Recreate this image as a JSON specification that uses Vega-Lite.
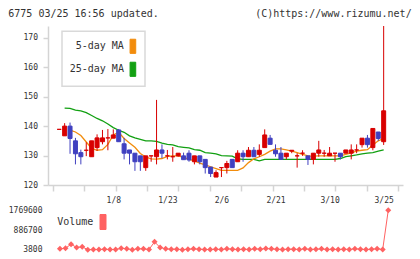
{
  "$schema": "https://vega.github.io/schema/vega-lite/v6.json",
  "background": "white",
  "padding": {"left": 8, "top": 8, "right": 0, "bottom": 0},
  "title": {
    "text": "6775 03/25 16:56 updated.\u00a0\u00a0\u00a0\u00a0\u00a0\u00a0\u00a0\u00a0\u00a0\u00a0\u00a0\u00a0\u00a0\u00a0\u00a0\u00a0(C)https://www.rizumu.net/",
    "anchor": "start",
    "font": "DejaVu Sans Mono",
    "fontSize": 10,
    "fontWeight": "normal",
    "color": "#333333",
    "offset": 7,
    "dx": 0
  },
  "datasets": {
    "d": [
      {"i": 0, "open": 138.9, "high": 138.9, "low": 138.9, "close": 138.9, "ma5": null, "ma25": null, "volume": null},
      {"i": 1, "open": 136.7, "high": 141.0, "low": 136.7, "close": 140.0, "ma5": null, "ma25": 146.1, "volume": 41000},
      {"i": 2, "open": 140.0, "high": 141.2, "low": 130.6, "close": 135.8, "ma5": 138.6, "ma25": 146.0, "volume": 71000},
      {"i": 3, "open": 135.0, "high": 136.0, "low": 127.0, "close": 130.6, "ma5": 138.0, "ma25": 145.4, "volume": 250000},
      {"i": 4, "open": 131.0, "high": 132.0, "low": 127.0, "close": 129.6, "ma5": 136.8, "ma25": 145.2, "volume": 101000},
      {"i": 5, "open": 131.8, "high": 134.5, "low": 129.8, "close": 131.8, "ma5": 134.6, "ma25": 144.6, "volume": 131000},
      {"i": 6, "open": 129.6, "high": 135.0, "low": 129.6, "close": 135.0, "ma5": 132.4, "ma25": 143.6, "volume": 3800},
      {"i": 7, "open": 132.7, "high": 137.2, "low": 131.6, "close": 136.0, "ma5": 131.8, "ma25": 142.6, "volume": 11000},
      {"i": 8, "open": 134.7, "high": 138.7, "low": 133.8, "close": 136.0, "ma5": 132.0, "ma25": 141.8, "volume": 11000},
      {"i": 9, "open": 136.0, "high": 139.0, "low": 131.8, "close": 136.0, "ma5": 133.8, "ma25": 140.7, "volume": 26000},
      {"i": 10, "open": 135.9, "high": 138.9, "low": 135.9, "close": 137.0, "ma5": 137.0, "ma25": 139.5, "volume": 11000},
      {"i": 11, "open": 138.7, "high": 139.0, "low": 134.7, "close": 134.7, "ma5": 137.9, "ma25": 138.6, "volume": 11000},
      {"i": 12, "open": 134.0, "high": 136.0, "low": 128.7, "close": 130.8, "ma5": 135.8, "ma25": 137.9, "volume": 71000},
      {"i": 13, "open": 131.9, "high": 131.9, "low": 127.0, "close": 130.8, "ma5": 134.3, "ma25": 136.7, "volume": 41000},
      {"i": 14, "open": 130.8, "high": 130.8, "low": 124.8, "close": 127.9, "ma5": 132.8, "ma25": 136.0, "volume": 3800},
      {"i": 15, "open": 129.9, "high": 129.9, "low": 124.8, "close": 127.9, "ma5": 130.7, "ma25": 135.5, "volume": 41000},
      {"i": 16, "open": 125.9, "high": 129.9, "low": 124.8, "close": 129.9, "ma5": 129.5, "ma25": 135.0, "volume": 41000},
      {"i": 17, "open": 129.9, "high": 129.9, "low": 127.9, "close": 129.9, "ma5": 128.9, "ma25": 135.0, "volume": 11000},
      {"i": 18, "open": 129.6, "high": 148.9, "low": 127.0, "close": 131.9, "ma5": 128.8, "ma25": 134.8, "volume": 355000},
      {"i": 19, "open": 131.9, "high": 133.8, "low": 129.1, "close": 130.8, "ma5": 129.0, "ma25": 134.2, "volume": 101000},
      {"i": 20, "open": 129.9, "high": 131.9, "low": 128.7, "close": 129.9, "ma5": 129.7, "ma25": 133.8, "volume": 41000},
      {"i": 21, "open": 129.6, "high": 132.9, "low": 127.9, "close": 129.6, "ma5": 129.9, "ma25": 133.6, "volume": 26000},
      {"i": 22, "open": 129.9, "high": 130.8, "low": 129.6, "close": 130.8, "ma5": 129.9, "ma25": 133.0, "volume": 26000},
      {"i": 23, "open": 129.9, "high": 131.0, "low": 128.6, "close": 128.6, "ma5": 129.4, "ma25": 132.8, "volume": 3800},
      {"i": 24, "open": 130.8, "high": 131.8, "low": 127.9, "close": 128.5, "ma5": 128.7, "ma25": 132.6, "volume": 26000},
      {"i": 25, "open": 127.9, "high": 129.9, "low": 127.0, "close": 129.9, "ma5": 128.2, "ma25": 132.0, "volume": 41000},
      {"i": 26, "open": 129.9, "high": 129.9, "low": 127.0, "close": 127.9, "ma5": 127.4, "ma25": 131.8, "volume": 26000},
      {"i": 27, "open": 128.7, "high": 128.7, "low": 123.9, "close": 125.9, "ma5": 126.8, "ma25": 131.0, "volume": 11000},
      {"i": 28, "open": 126.1, "high": 126.1, "low": 122.7, "close": 123.9, "ma5": 126.2, "ma25": 130.8, "volume": 11000},
      {"i": 29, "open": 122.7, "high": 125.0, "low": 122.7, "close": 124.2, "ma5": 125.6, "ma25": 130.6, "volume": 26000},
      {"i": 30, "open": 125.9, "high": 125.9, "low": 122.7, "close": 125.9, "ma5": 125.0, "ma25": 130.0, "volume": 11000},
      {"i": 31, "open": 125.9, "high": 128.2, "low": 123.9, "close": 127.3, "ma5": 125.0, "ma25": 129.9, "volume": 41000},
      {"i": 32, "open": 128.7, "high": 128.7, "low": 125.9, "close": 125.9, "ma5": 125.0, "ma25": 129.8, "volume": 26000},
      {"i": 33, "open": 127.9, "high": 131.8, "low": 127.9, "close": 130.8, "ma5": 125.0, "ma25": 128.9, "volume": 11000},
      {"i": 34, "open": 130.8, "high": 131.8, "low": 127.9, "close": 129.6, "ma5": 125.8, "ma25": 128.7, "volume": 26000},
      {"i": 35, "open": 129.6, "high": 132.9, "low": 129.6, "close": 131.8, "ma5": 127.6, "ma25": 128.7, "volume": 11000},
      {"i": 36, "open": 131.8, "high": 132.9, "low": 129.6, "close": 129.6, "ma5": 128.9, "ma25": 128.7, "volume": 41000},
      {"i": 37, "open": 130.4, "high": 133.8, "low": 129.6, "close": 131.8, "ma5": 129.6, "ma25": 128.2, "volume": 26000},
      {"i": 38, "open": 132.7, "high": 138.9, "low": 132.7, "close": 137.0, "ma5": 130.4, "ma25": 128.7, "volume": 56000},
      {"i": 39, "open": 135.9, "high": 137.0, "low": 133.8, "close": 133.8, "ma5": 131.5, "ma25": 128.7, "volume": 41000},
      {"i": 40, "open": 131.8, "high": 133.8, "low": 129.6, "close": 130.6, "ma5": 132.3, "ma25": 128.7, "volume": 26000},
      {"i": 41, "open": 130.8, "high": 132.9, "low": 128.7, "close": 128.7, "ma5": 132.3, "ma25": 128.7, "volume": 11000},
      {"i": 42, "open": 129.6, "high": 130.8, "low": 128.7, "close": 130.8, "ma5": 131.9, "ma25": 128.7, "volume": 26000},
      {"i": 43, "open": 131.5, "high": 131.8, "low": 130.8, "close": 131.8, "ma5": 131.5, "ma25": 128.7, "volume": 26000},
      {"i": 44, "open": 129.9, "high": 130.8, "low": 125.9, "close": 129.9, "ma5": 131.0, "ma25": 128.7, "volume": 11000},
      {"i": 45, "open": 130.8, "high": 131.8, "low": 129.9, "close": 130.8, "ma5": 130.4, "ma25": 128.7, "volume": 41000},
      {"i": 46, "open": 129.9, "high": 129.9, "low": 126.8, "close": 128.7, "ma5": 129.9, "ma25": 128.7, "volume": 11000},
      {"i": 47, "open": 128.7, "high": 130.8, "low": 127.0, "close": 130.8, "ma5": 129.8, "ma25": 128.7, "volume": 26000},
      {"i": 48, "open": 130.8, "high": 135.0, "low": 129.6, "close": 131.9, "ma5": 129.9, "ma25": 128.7, "volume": 41000},
      {"i": 49, "open": 130.8, "high": 131.9, "low": 129.6, "close": 130.8, "ma5": 129.9, "ma25": 128.7, "volume": 11000},
      {"i": 50, "open": 129.9, "high": 132.9, "low": 129.9, "close": 130.8, "ma5": 129.9, "ma25": 128.7, "volume": 26000},
      {"i": 51, "open": 130.8, "high": 130.8, "low": 127.9, "close": 130.8, "ma5": 129.9, "ma25": 128.7, "volume": 11000},
      {"i": 52, "open": 130.8, "high": 130.8, "low": 128.7, "close": 129.6, "ma5": 129.9, "ma25": 129.0, "volume": 26000},
      {"i": 53, "open": 130.8, "high": 131.9, "low": 130.8, "close": 131.9, "ma5": 130.4, "ma25": 129.6, "volume": 11000},
      {"i": 54, "open": 130.8, "high": 133.8, "low": 128.7, "close": 131.9, "ma5": 130.9, "ma25": 129.9, "volume": 41000},
      {"i": 55, "open": 131.9, "high": 133.8, "low": 130.8, "close": 131.9, "ma5": 131.5, "ma25": 130.2, "volume": 26000},
      {"i": 56, "open": 133.7, "high": 135.9, "low": 132.7, "close": 135.9, "ma5": 131.8, "ma25": 130.6, "volume": 11000},
      {"i": 57, "open": 135.9, "high": 137.0, "low": 132.7, "close": 133.7, "ma5": 132.0, "ma25": 130.8, "volume": 26000},
      {"i": 58, "open": 132.7, "high": 139.2, "low": 131.8, "close": 139.2, "ma5": 133.6, "ma25": 131.0, "volume": 41000},
      {"i": 59, "open": 138.0, "high": 138.0, "low": 135.0, "close": 135.8, "ma5": 135.0, "ma25": 131.5, "volume": 11000},
      {"i": 60, "open": 134.7, "high": 174.0, "low": 133.6, "close": 145.2, "ma5": 135.8, "ma25": 131.9, "volume": 1769600}
    ]
  },
  "spacing": 25.3,
  "bounds": "flush",
  "resolve": {
    "scale": {"color": "independent", "x": "independent", "y": "independent"},
    "legend": {"color": "independent"}
  },
  "vconcat": [
    {
      "width": 355,
      "height": 159,
      "data": {"name": "d"},
      "encoding": {
        "x": {
          "field": "i",
          "type": "quantitative",
          "scale": {"domain": [-1.15, 62.65], "nice": false, "zero": false},
          "axis": {
            "values": [-1.15, 4.65, 10, 10.45, 16.25, 20, 22.05, 27.85, 30, 33.65, 39.45, 40, 45.25, 50, 51.05, 56.85, 60, 62.65],
            "labelExpr": "datum.value == 10 ? '1/8' : datum.value == 20 ? '1/23' : datum.value == 30 ? '2/6' : datum.value == 40 ? '2/21' : datum.value == 50 ? '3/10' : datum.value == 60 ? '3/25' : ''",
            "tickOpacity": {"condition": {"test": "datum.value % 10 === 0", "value": 0}, "value": 1},
            "tickSize": 6,
            "tickWidth": 1.5,
            "tickColor": "#d4d4d4",
            "domainColor": "#d4d4d4",
            "domainWidth": 1.5,
            "grid": false,
            "labelFont": "DejaVu Sans Mono",
            "labelFontSize": 8,
            "labelColor": "#333333",
            "labelPadding": 5,
            "labelOverlap": false,
            "labelFlush": false,
            "title": null
          }
        }
      },
      "layer": [
        {
          "mark": {"type": "line", "strokeWidth": 1.3},
          "encoding": {
            "y": {
              "field": "ma25",
              "type": "quantitative",
              "scale": {"domain": [120, 174], "nice": false, "zero": false},
              "axis": {
                "values": [120, 130, 140, 150, 160, 170],
                "tickSize": 5, "tickWidth": 1.5, "tickColor": "#d4d4d4",
                "domainColor": "#d4d4d4", "domainWidth": 1.5, "grid": false,
                "labelFont": "DejaVu Sans Mono", "labelFontSize": 8, "labelColor": "#333333",
                "labelPadding": 5.5, "labelFlush": false, "labelOverlap": false, "title": null
              }
            },
            "color": {
              "datum": "25-day MA",
              "type": "nominal",
              "scale": {"domain": ["5-day MA", "25-day MA"], "range": ["#f28c0c", "#12a012"]},
              "legend": {
                "title": null,
                "orient": "none",
                "legendX": 14,
                "legendY": 5.3,
                "padding": 7,
                "strokeColor": "#d9d9d9",
                "fillColor": "white",
                "symbolType": "M-0.4,-1H0.4V1H-0.4Z",
                "symbolSize": 200,
                "symbolStrokeColor": "#333333",
                "symbolStrokeWidth": 1,
                "symbolOpacity": 1,
                "symbolOffset": 55.9,
                "labelAlign": "right",
                "labelOffset": -17,
                "labelFont": "DejaVu Sans Mono",
                "labelFontSize": 10,
                "labelColor": "#333333",
                "rowPadding": 3,
                "encode": {
                  "legend": {"update": {"strokeWidth": {"value": 1.5}}},
                  "symbols": {
                    "update": {
                      "fill": {"signal": "datum.value === '5-day MA' ? '#f28c0c' : '#12a012'"},
                      "fillOpacity": {"value": 1},
                      "stroke": {"value": "#333333"},
                      "strokeWidth": {"value": 1}
                    }
                  }
                }
              }
            }
          }
        },
        {
          "mark": {"type": "line", "strokeWidth": 1.3},
          "encoding": {
            "y": {
              "field": "ma5",
              "type": "quantitative",
              "axis": {
                "values": [120, 130, 140, 150, 160, 170],
                "tickSize": 5, "tickWidth": 1.5, "tickColor": "#d4d4d4",
                "domainColor": "#d4d4d4", "domainWidth": 1.5, "grid": false,
                "labelFont": "DejaVu Sans Mono", "labelFontSize": 8, "labelColor": "#333333",
                "labelPadding": 5.5, "labelFlush": false, "labelOverlap": false, "title": null
              }
            },
            "color": {"datum": "5-day MA", "type": "nominal"}
          }
        },
        {
          "mark": {"type": "rule", "strokeWidth": 1},
          "encoding": {
            "y": {
              "field": "low",
              "type": "quantitative",
              "axis": {
                "values": [120, 130, 140, 150, 160, 170],
                "tickSize": 5, "tickWidth": 1.5, "tickColor": "#d4d4d4",
                "domainColor": "#d4d4d4", "domainWidth": 1.5, "grid": false,
                "labelFont": "DejaVu Sans Mono", "labelFontSize": 8, "labelColor": "#333333",
                "labelPadding": 5.5, "labelFlush": false, "labelOverlap": false, "title": null
              }
            },
            "y2": {"field": "high"},
            "color": {"condition": {"test": "datum.close >= datum.open", "value": "#d80000"}, "value": "#4040c0"}
          }
        },
        {
          "mark": {"type": "bar", "width": 4, "strokeWidth": 1},
          "encoding": {
            "y": {
              "field": "open",
              "type": "quantitative",
              "axis": {
                "values": [120, 130, 140, 150, 160, 170],
                "tickSize": 5, "tickWidth": 1.5, "tickColor": "#d4d4d4",
                "domainColor": "#d4d4d4", "domainWidth": 1.5, "grid": false,
                "labelFont": "DejaVu Sans Mono", "labelFontSize": 8, "labelColor": "#333333",
                "labelPadding": 5.5, "labelFlush": false, "labelOverlap": false, "title": null
              }
            },
            "y2": {"field": "close"},
            "color": {"condition": {"test": "datum.close >= datum.open", "value": "#d80000"}, "value": "#4040c0"},
            "stroke": {"condition": {"test": "datum.close >= datum.open", "value": "#d80000"}, "value": "#4040c0"}
          }
        }
      ]
    },
    {
      "width": 355,
      "height": 39.4,
      "data": {"name": "d"},
      "mark": {"type": "line", "strokeWidth": 1, "point": {"filled": true, "shape": "diamond", "size": 36}},
      "encoding": {
        "x": {
          "field": "i",
          "type": "quantitative",
          "scale": {"domain": [-1.15, 62.65], "nice": false, "zero": false},
          "axis": null
        },
        "y": {
          "field": "volume",
          "type": "quantitative",
          "scale": {"domain": [3800, 1769600], "nice": false, "zero": false},
          "axis": {
            "values": [3800, 886700, 1769600],
            "format": "d",
            "domain": false,
            "ticks": false,
            "tickSize": 0,
            "grid": false,
            "labelFont": "DejaVu Sans Mono",
            "labelFontSize": 8,
            "labelColor": "#333333",
            "labelPadding": 6,
            "labelFlush": false,
            "labelOverlap": false,
            "title": null
          }
        },
        "color": {
          "datum": "Volume",
          "type": "nominal",
          "scale": {"domain": ["Volume"], "range": ["#ff6262"]},
          "legend": {
            "title": null,
            "orient": "none",
            "legendX": 0,
            "legendY": 3.7,
            "padding": 0,
            "symbolType": "M-0.4,-1H0.4V1H-0.4Z",
            "symbolSize": 225,
            "symbolOffset": 47,
            "labelAlign": "right",
            "labelOffset": -17.7,
            "labelFont": "DejaVu Sans Mono",
            "labelFontSize": 10,
            "labelColor": "#333333",
            "encode": {
              "symbols": {
                "update": {
                  "fill": {"value": "#ff6262"},
                  "fillOpacity": {"value": 1},
                  "stroke": {"value": "#333333"},
                  "strokeWidth": {"value": 1},
                  "opacity": {"value": 1}
                }
              }
            }
          }
        }
      }
    }
  ],
  "config": {
    "view": {"stroke": null},
    "font": "DejaVu Sans Mono",
    "axis": {"labelOverlap": false}
  }
}
